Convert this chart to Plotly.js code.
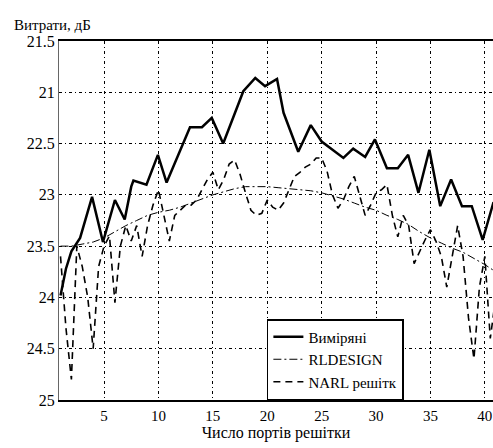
<!DOCTYPE html>
<html><head><meta charset="utf-8">
<script src="https://cdn.plot.ly/plotly-3.0.1.min.js"></script>
<style>html,body{margin:0;padding:0;background:#fff}#c{width:493px;height:448px}</style>
</head><body><div id="c"></div>
<script>
const measX = [1,1.5,2,2.8,3.9,4.9,6.0,6.9,7.5,7.7,8.9,9.95,10.75,12.9,14.0,14.9,15.95,17.8,18.9,19.8,20.9,21.5,22.85,24.0,25.0,27.0,27.9,29.0,29.9,31.0,32.0,32.95,33.9,34.9,35.9,36.9,37.9,38.8,39.8,40.8];
const measY = [23.98,23.72,23.55,23.42,23.02,23.46,23.05,23.24,22.92,22.86,22.9,22.61,22.88,22.34,22.34,22.25,22.5,21.99,21.86,21.94,21.87,22.2,22.58,22.32,22.48,22.64,22.55,22.63,22.46,22.74,22.74,22.61,22.98,22.56,23.11,22.85,23.11,23.11,23.44,23.07];

const rlX = [1,2,3,4,5,6,7,8,9,10,11,12,13,14,15,16,17,18,19,20,21,22,23,24,25,26,27,28,29,30,31,32,33,34,35,36,37,38,39,40,41];
const rlY = [23.5,23.5,23.48,23.46,23.42,23.36,23.3,23.25,23.2,23.17,23.15,23.12,23.08,23.04,23.0,22.97,22.94,22.92,22.92,22.92,22.93,22.94,22.95,22.96,22.98,23.01,23.04,23.08,23.12,23.15,23.2,23.24,23.29,23.36,23.42,23.47,23.52,23.56,23.62,23.68,23.75];

const narlX = [1,1.5,2,2.5,3,3.5,4,4.5,5,5.5,6,6.5,7,7.5,8,8.5,9,9.5,10,10.5,11,11.5,12,12.5,13,13.5,14,14.5,15,15.5,16,16.5,17,17.5,18,18.5,19,19.5,20,20.5,21,21.5,22,22.5,23,23.5,24,24.5,25,25.5,26,26.5,27,27.5,28,28.5,29,29.5,30,30.5,31,31.5,32,32.5,33,33.5,34,34.5,35,35.5,36,36.5,37,37.5,38,38.5,39,39.5,40,40.5,41];
const narlY = [23.6,24.3,24.8,23.5,23.7,24.0,24.5,23.7,23.5,23.4,24.05,23.5,23.3,23.45,23.3,23.6,23.3,23.1,22.95,23.2,23.45,23.2,23.15,23.1,23.1,23.05,22.95,22.85,22.78,22.95,22.85,22.7,22.66,22.8,22.98,23.15,23.2,23.18,23.05,23.12,23.15,23.08,22.95,22.82,22.78,22.73,22.7,22.64,22.64,22.77,23.0,23.13,23.05,22.92,22.82,23.0,23.2,23.1,22.98,22.95,22.9,23.2,23.41,23.2,23.3,23.67,23.55,23.44,23.34,23.45,23.6,23.9,23.6,23.3,23.6,24.2,24.6,23.9,23.6,24.4,24.0];

const yTickVals = [21.5,22,22.5,23,23.5,24,24.5,25];
const yTickText = ['21.5','21','22.5','23','23.5','24','24.5','25'];
const xTickVals = [5,10,15,20,25,30,35,40];

const names = ['Виміряні','RLDESIGN','NARL решітк'];

const SERIF = 'Liberation Serif';

const traces = [
  {x: measX, y: measY, name: names[0], mode:'lines', line:{color:'#000', width:2.5}},
  {x: rlX, y: rlY, name: names[1], mode:'lines', line:{color:'#000', width:1, dash:'8px,3px,2px,3px'}},
  {x: narlX, y: narlY, name: names[2], mode:'lines', line:{color:'#000', width:1.6, dash:'7px,5px'}}
];

const layout = {
  width:493, height:448,
  margin:{l:59, r:0, t:41, b:48},
  paper_bgcolor:'#fff', plot_bgcolor:'#fff',
  font: {family:SERIF, color:'#000', size:16},
  showlegend:true,
  legend:{x:0.479, y:0, xanchor:'left', yanchor:'bottom', bgcolor:'#fff', bordercolor:'#000', borderwidth:1.5,
    font:{family:SERIF, size:15, color:'#000'}, tracegroupgap:0, itemwidth:30},
  xaxis:{range:[0.86,40.75], tickvals:xTickVals, ticks:'', showgrid:true, gridcolor:'#000', gridwidth:1,
    griddash:'3px,3px,1px,3px', zeroline:false, showline:true, linecolor:'#000', linewidth:2, mirror:true,
    tickfont:{family:SERIF, size:15}, ticklabelstandoff:1, ticklabeloverflow:'allow',
    title:{text:'Число портів решітки', font:{family:SERIF, size:16}, standoff:0}},
  yaxis:{range:[25,21.5], tickvals:yTickVals, ticktext:yTickText, ticks:'', showgrid:true, gridcolor:'#000', gridwidth:1,
    griddash:'3px,3px,1px,3px', zeroline:false, showline:true, linecolor:'#666', linewidth:1,
    tickfont:{family:SERIF, size:16}},
  annotations:[{text:'Витрати, дБ', xref:'paper', yref:'paper', x:-0.108, y:1.0, yshift:6, xanchor:'left', yanchor:'bottom',
    showarrow:false, font:{family:SERIF, size:15}}]
};

Plotly.newPlot('c', traces, layout, {staticPlot:true, displayModeBar:false});
</script></body></html>
